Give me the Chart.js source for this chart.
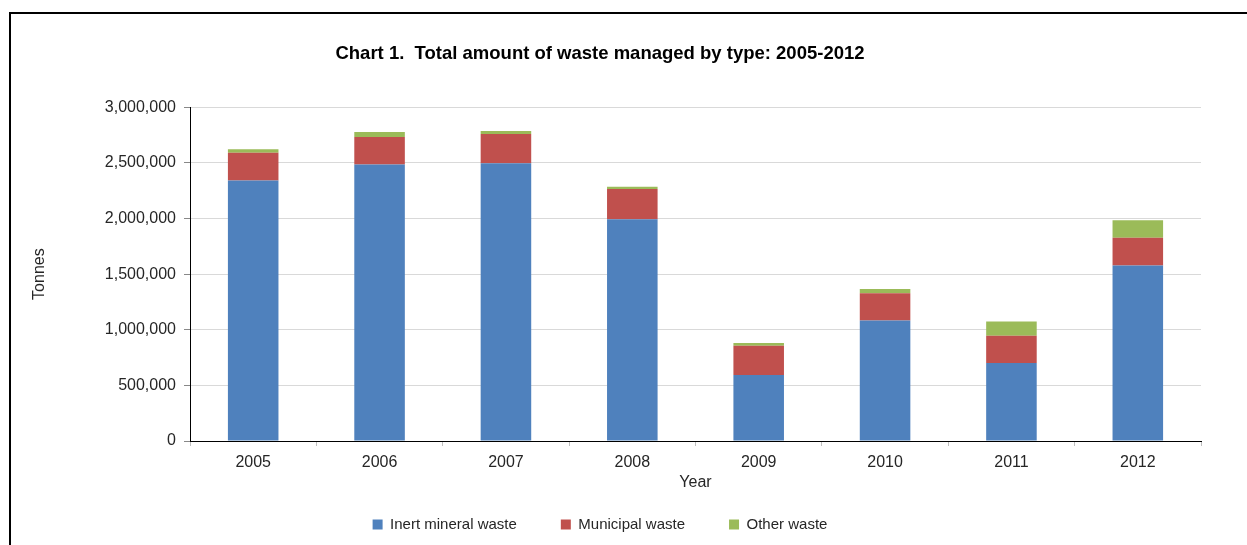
<!DOCTYPE html>
<html>
<head>
<meta charset="utf-8">
<title>Chart 1</title>
<script src="https://cdn.jsdelivr.net/npm/chart.js@4/dist/chart.umd.min.js"></script>
<style>
    html, body { margin: 0; padding: 0; background: #fff; overflow: hidden; }
    #frame {
        position: absolute; left: 9px; top: 12px; width: 1300px; height: 600px;
        border-top: 2px solid #000; border-left: 2px solid #000;
    }
    #wrap { position: absolute; left: -60px; top: 0; width: 1320px; height: 545px; }
</style>
</head>
<body>
<div id="frame"></div>
<div id="wrap"><canvas id="myChart"></canvas></div>
<script>
"use strict";

let Chart = window.Chart;

const years = ['2005', '2006', '2007', '2008', '2009', '2010', '2011', '2012'];
const inertMineral = [2342000, 2485000, 2497000, 1994000, 593000, 1084000, 701000, 1578000];
const municipal = [248000, 248000, 263000, 270000, 263000, 245000, 245000, 248000];
const other = [33000, 45000, 27000, 20000, 24000, 36000, 129000, 159000];
const seriesNames = ['Inert mineral waste', 'Municipal waste', 'Other waste'];
const colors = ['#4F81BD', '#C0504D', '#9BBB59'];

const textColor = '#262626';
const fontFamily = '"Liberation Sans", Arial, sans-serif';

function createDatasets() {
    return [inertMineral, municipal, other].map((data, i) => ({
        label: seriesNames[i],
        data,
        backgroundColor: colors[i],
        borderWidth: 0,
        barPercentage: 0.4,
        categoryPercentage: 1,
    }));
}

function createConfig(datasets) {
    return {
        type: 'bar',
        data: {
            labels: years,
            datasets,
        },
        options: {
            responsive: true,
            maintainAspectRatio: false,
            animation: false,
            layout: {
                padding: {left: 59, right: 59, top: 0, bottom: 3}
            },
            plugins: {
                title: {
                    display: true,
                    text: 'Chart 1.  Total amount of waste managed by type: 2005-2012',
                    color: '#000',
                    font: {size: 18.5, weight: 'bold'},
                    padding: {top: 43, bottom: 42},
                },
                legend: {
                    position: 'bottom',
                    labels: {
                        color: textColor,
                        font: {size: 15},
                        boxWidth: 10,
                        boxHeight: 10,
                        padding: 44,
                    }
                },
                tooltip: {enabled: false},
            },
            scales: {
                x: {
                    stacked: true,
                    // the "Year" title hangs into the empty top of the legend box
                    afterFit(scale) {
                        scale.height = 32;
                    },
                    grid: {
                        drawOnChartArea: false,
                        offset: true,
                        tickLength: 5,
                        color: '#bfbfbf',
                    },
                    border: {color: '#000', width: 1},
                    ticks: {color: textColor, font: {size: 16}, padding: 7},
                    title: {
                        display: true,
                        text: 'Year',
                        color: textColor,
                        font: {size: 16},
                        padding: {top: 0, bottom: -19},
                    },
                },
                y: {
                    stacked: true,
                    min: 0,
                    max: 3000000,
                    afterFit(scale) {
                        scale.width = 191;
                    },
                    grid: {
                        color: '#d9d9d9',
                        tickLength: 6,
                        tickColor: '#888',
                    },
                    border: {color: '#000', width: 1},
                    ticks: {
                        stepSize: 500000,
                        color: textColor,
                        font: {size: 16},
                        padding: 8,
                        callback: value => value.toLocaleString('en-US'),
                    },
                    title: {
                        display: true,
                        text: 'Tonnes',
                        color: textColor,
                        font: {size: 16},
                        padding: {top: 31, bottom: 0},
                    },
                },
            }
        }
    };
}

function createChart() {
    Chart.defaults.font.family = fontFamily;
    const config = createConfig(createDatasets());
    return new Chart(document.getElementById('myChart'), config);
}

createChart();
</script>
</body>
</html>
